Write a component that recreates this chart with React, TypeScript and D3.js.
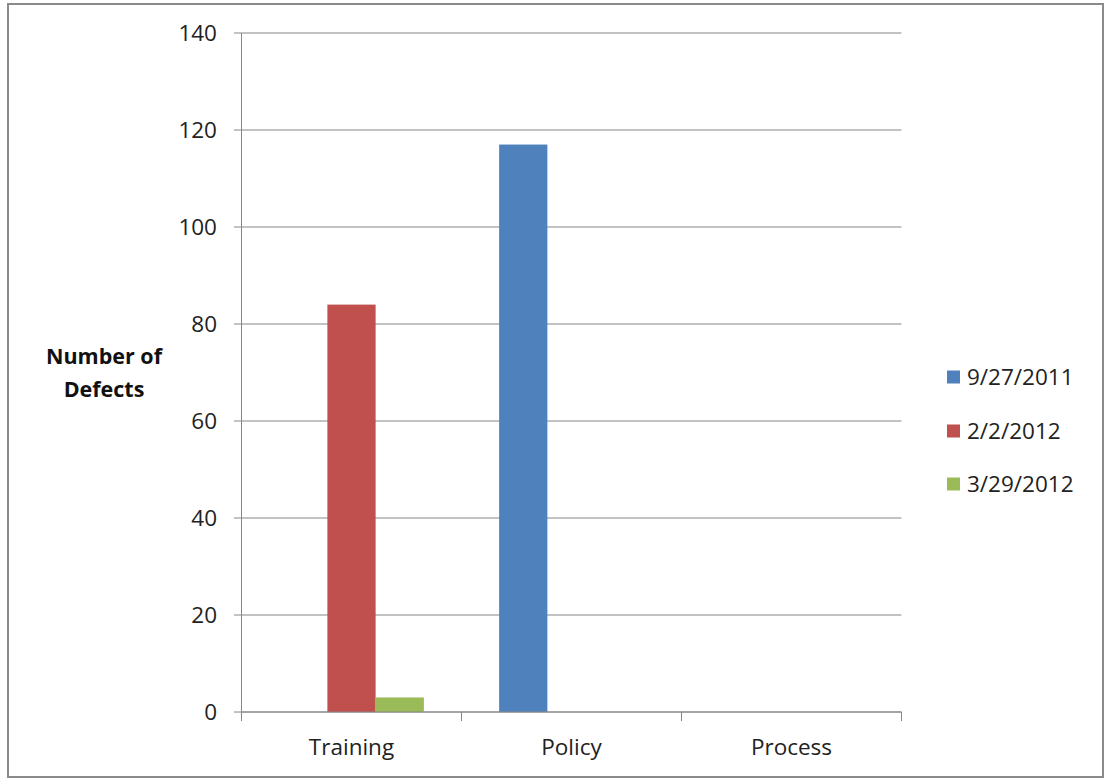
import React from "react";
import * as d3 from "d3";

const categories = ["Training", "Policy", "Process"];
const seriesNames = ["9/27/2011", "2/2/2012", "3/29/2012"];
const seriesColors = ["#4F81BD", "#C0504D", "#9BBB59"];
const s1 = [0, 117, 0];
const s2 = [84, 0, 0];
const s3 = [3, 0, 0];
const seriesValues = [s1, s2, s3];
const yTicks = [0, 20, 40, 60, 80, 100, 120, 140];

const W = 1106;
const H = 780;
const FONT = "'Open Sans', Lato, sans-serif";

export default function App() {
  const left = 241.5, right = 901.5, top = 33, bottom = 712;
  const x = d3.scaleBand<string>().domain(categories).range([left, right]).paddingInner(0).paddingOuter(0);
  const xs = d3.scaleBand<string>().domain(seriesNames).range([0, x.bandwidth()]).paddingInner(0).paddingOuter(0.78);
  const y = d3.scaleLinear().domain([0, 140]).range([bottom, top]);
  const axisColor = "#868686";

  return (
    <svg width={W} height={H} style={{ position: "absolute", left: 0, top: 0, background: "#fff" }} fontFamily={FONT}>
      <rect x={8} y={4} width={1095} height={773} fill="#fff" stroke="#8a8a8a" strokeWidth={2} />
      {yTicks.map((t) => (
        <g key={t}>
          <line x1={234} x2={right} y1={y(t)} y2={y(t)} stroke={axisColor} strokeWidth={1} />
          <text x={217} y={y(t)} dy="0.36em" textAnchor="end" fontSize={22.5} fill="#222">{t}</text>
        </g>
      ))}
      <line x1={left} x2={left} y1={top} y2={bottom} stroke={axisColor} strokeWidth={1} />
      {[...categories.map((c) => x(c)!), right].map((px, i) => (
        <line key={i} x1={px} x2={px} y1={bottom} y2={bottom + 9} stroke={axisColor} strokeWidth={1} />
      ))}
      {seriesValues.map((vals, si) =>
        vals.map((v, ci) =>
          v > 0 ? (
            <rect
              key={`${si}-${ci}`}
              x={x(categories[ci])! + xs(seriesNames[si])!}
              y={y(v)}
              width={xs.bandwidth()}
              height={y(0) - y(v)}
              fill={seriesColors[si]}
            />
          ) : null
        )
      )}
      <line x1={left} x2={right} y1={bottom} y2={bottom} stroke={axisColor} strokeWidth={1} />
      {categories.map((c) => (
        <text key={c} x={x(c)! + x.bandwidth() / 2} y={755} textAnchor="middle" fontSize={22.5} fill="#222">{c}</text>
      ))}
      <text x={104} y={364} textAnchor="middle" fontSize={21.5} fontWeight="bold" fill="#111">Number of</text>
      <text x={104} y={397} textAnchor="middle" fontSize={21.5} fontWeight="bold" fill="#111">Defects</text>
      {seriesNames.map((n, i) => {
        const cy = [377, 431, 484][i];
        return (
          <g key={n}>
            <rect x={947} y={cy - 6.5} width={13} height={13} fill={seriesColors[i]} />
            <text x={967} y={cy} dy="0.36em" fontSize={22.5} fill="#222">{n}</text>
          </g>
        );
      })}
    </svg>
  );
}
